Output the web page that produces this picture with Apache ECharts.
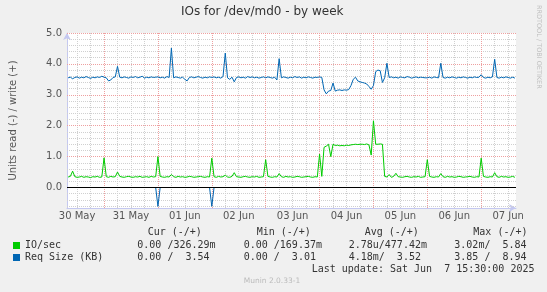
<!DOCTYPE html>
<html><head><meta charset="utf-8">
<script src="https://cdn.jsdelivr.net/npm/echarts@6/dist/echarts.min.js"></script>
<style>html,body{margin:0;padding:0;background:#f0f0f0}#c{width:547px;height:292px}</style>
</head><body><div id="c"></div>
<script>
// hourly samples, hours since 30 May 00:00, starting at 08:00
const startHour = 8;
const ioWrite = [
 0.34,0.36,0.53,0.35,0.33,0.34,0.36,0.33,0.35,0.34,0.32,0.35,0.34,0.36,0.33,0.34,
 0.96,0.35,0.33,0.36,0.34,0.35,0.50,0.36,0.34,0.33,0.35,0.36,0.34,0.33,0.35,0.34,0.36,0.33,0.34,0.35,0.33,0.36,0.34,0.35,
 1.00,0.36,0.34,0.33,0.35,0.34,0.42,0.35,0.33,0.36,0.34,0.35,0.33,0.34,0.36,0.35,0.33,0.34,0.35,0.36,0.34,0.33,0.35,0.34,
 0.95,0.35,0.33,0.36,0.34,0.35,0.40,0.34,0.33,0.36,0.48,0.35,0.34,0.33,0.35,0.36,0.34,0.33,0.35,0.34,0.36,0.33,0.34,0.35,
 0.90,0.36,0.34,0.33,0.35,0.34,0.45,0.35,0.33,0.36,0.34,0.35,0.33,0.34,0.36,0.35,0.33,0.34,0.35,0.36,0.34,0.33,0.35,0.34,
 1.08,0.36,1.30,1.34,1.40,1.00,1.40,1.36,1.37,1.35,1.36,1.35,1.37,1.36,1.38,1.39,1.40,1.39,1.40,1.40,1.39,1.41,1.38,1.05,
 2.16,1.40,1.40,1.41,1.40,0.36,0.34,0.42,0.33,0.36,0.46,0.35,0.34,0.33,0.35,0.36,0.34,0.33,0.35,0.34,0.36,0.33,0.34,0.35,
 0.90,0.36,0.34,0.33,0.35,0.34,0.45,0.35,0.33,0.36,0.34,0.35,0.33,0.34,0.36,0.35,0.33,0.34,0.35,0.36,0.34,0.33,0.35,0.34,
 0.95,0.36,0.34,0.33,0.35,0.34,0.48,0.35,0.33,0.36,0.34,0.35,0.33,0.34,0.36,0.33
];
const reqWrite = [
 3.55,3.57,3.52,3.56,3.58,3.54,3.57,3.55,3.59,3.56,3.53,3.57,3.55,3.58,3.56,3.60,
 3.57,3.55,3.45,3.48,3.56,3.58,3.92,3.57,3.55,3.58,3.56,3.54,3.58,3.56,3.59,3.55,3.57,3.60,3.54,3.57,3.55,3.58,3.56,3.57,
 3.58,3.55,3.57,3.54,3.59,3.56,4.51,3.55,3.58,3.56,3.54,3.57,3.50,3.45,3.56,3.58,3.55,3.57,3.59,3.56,3.54,3.57,3.55,3.58,
 3.56,3.58,3.55,3.57,3.54,3.59,4.35,3.55,3.50,3.57,3.42,3.56,3.58,3.55,3.57,3.54,3.59,3.56,3.58,3.55,3.57,3.54,3.56,3.58,
 3.55,3.58,3.56,3.54,3.57,3.48,4.17,3.55,3.58,3.56,3.54,3.57,3.55,3.59,3.56,3.58,3.54,3.57,3.55,3.58,3.56,3.54,3.57,3.56,
 3.58,3.56,3.16,3.03,3.12,3.14,3.38,3.12,3.15,3.16,3.14,3.16,3.15,3.17,3.30,3.50,3.57,3.45,3.42,3.40,3.38,3.35,3.27,3.18,
 3.30,3.75,3.80,3.78,3.40,3.55,4.02,3.56,3.58,3.55,3.57,3.54,3.58,3.56,3.55,3.59,3.57,3.54,3.56,3.58,3.55,3.57,3.56,3.55,
 3.55,3.57,3.54,3.58,3.56,3.55,4.02,3.56,3.54,3.57,3.55,3.58,3.56,3.54,3.57,3.55,3.58,3.56,3.54,3.57,3.55,3.58,3.56,3.57,
 3.65,3.56,3.54,3.57,3.55,3.58,4.15,3.56,3.54,3.57,3.55,3.58,3.56,3.54,3.57,3.54
];
// read (-) sides: [hour, value]
const ioRead = [[8,0],[207,0]];
const reqRead = [[8,0],[47,0],[48,-0.61],[49,0],[71,0],[72,-0.61],[73,0],[207,0]];

const dayLabels = ['30 May','31 May','01 Jun','02 Jun','03 Jun','04 Jun','05 Jun','06 Jun','07 Jun'];
const labelHours = [12,36,60,84,108,132,156,180,204];
const dayBoundaries = [24,48,72,96,120,144,168,192];
const yTicks = [0,1,2,3,4,5];
const xMin = 7.5, xMax = 207.5, yMin = -0.663, yMax = 5.0;

const seriesNames = ['IO/sec','Req Size (KB)'];
const seriesColors = ['#00CC00','#0066B3'];
const statHeaders = ['Cur (-/+)','Min (-/+)','Avg (-/+)','Max (-/+)'];
const ioStats = ['0.00 /326.29m','0.00 /169.37m','2.78u/477.42m','3.02m/  5.84'];
const reqStats = ['0.00 /  3.54','0.00 /  3.01','4.18m/  3.52','3.85 /  8.94'];
const lastUpdate = 'Last update: Sat Jun  7 15:30:00 2025';
const version = 'Munin 2.0.33-1';
const watermark = 'RRDTOOL / TOBI OETIKER';

const minorX = []; for (let h = 12; h < xMax; h += 6) if (h % 24 !== 0) minorX.push(h);
const minorY = []; for (let k = -3; k <= 24; k++) if (k % 5 !== 0) minorY.push(+(k * 0.2).toFixed(1));

const toPts = arr => arr.map((v, i) => [startHour + i, v]);
const mono = 'DejaVu Sans Mono';
const sans = 'DejaVu Sans';

function gridSeries(data, color, z, dashed) {
  return {
    type: 'line', data: [], silent: true, z: z,
    markLine: {
      silent: true, symbol: ['none','none'], z: z, animation: false,
      label: {show: false}, emphasis: {disabled: true},
      lineStyle: {color: color, width: 1, type: dashed ? [1,1] : 'solid'},
      data: data
    }
  };
}
const lineS = (name, data, color) => ({
  name: name, type: 'line', data: data, showSymbol: false, symbol: 'none', z: 3,
  lineStyle: {color: color, width: 1}, itemStyle: {color: color}, animation: false
});

const colX = [137.3, 243.7, 348.7, 454.3];
const hdrX = [147.7, 256.7, 364.7, 473.3];
const graphics = [];
function txt(x, y, s, font, size, color) {
  graphics.push({type: 'text', x: x, y: y, silent: true,
    style: {text: s, fontFamily: font, fontSize: size, fill: color, verticalAlign: 'middle', align: 'left'}});
}
statHeaders.forEach((s, i) => txt(hdrX[i], 232.7, s, mono, 10, '#333'));
ioStats.forEach((s, i) => txt(colX[i], 245.7, s, mono, 10, '#333'));
reqStats.forEach((s, i) => txt(colX[i], 257.7, s, mono, 10, '#333'));
txt(311.7, 269.5, lastUpdate, mono, 10, '#333');
txt(243.7, 281.5, version, sans, 7.5, '#bbb');
graphics.push({type: 'text', x: 539, y: 5, rotation: -Math.PI / 2, silent: true,
  style: {text: watermark, fontFamily: sans, fontSize: 6.5, fill: '#c0c0c0', verticalAlign: 'middle', align: 'left'}});

const chart = echarts.init(document.getElementById('c'), null, {renderer: 'canvas'});
chart.setOption({
  animation: false,
  backgroundColor: '#f0f0f0',
  title: {text: 'IOs for /dev/md0 - by week', left: 181, top: 6, padding: 0,
    textStyle: {fontFamily: sans, fontSize: 12, fontWeight: 'normal', color: '#333'}},
  legend: {data: seriesNames, orient: 'vertical', left: 13, top: 239.5, icon: 'rect', itemWidth: 7, itemHeight: 7,
    itemGap: 0, padding: 0, selectedMode: false,
    textStyle: {fontFamily: mono, fontSize: 10, color: '#333', lineHeight: 12}},
  grid: {left: 66, right: 31, top: 33, bottom: 84, show: true, backgroundColor: '#ffffff', borderWidth: 0},
  xAxis: {type: 'value', min: xMin, max: xMax,
    axisLine: {show: true, onZero: false, lineStyle: {color: '#c4c8f0', width: 1}, symbol: ['none','arrow'], symbolSize: [6, 7]},
    axisTick: {show: false}, splitLine: {show: false},
    axisLabel: {customValues: labelHours, formatter: v => dayLabels[labelHours.indexOf(v)],
      fontFamily: sans, fontSize: 10, color: '#555', margin: 3}},
  yAxis: {type: 'value', min: yMin, max: yMax,
    name: 'Units read (-) / write (+)', nameLocation: 'middle', nameGap: 49,
    nameTextStyle: {fontFamily: sans, fontSize: 10, color: '#555'},
    axisLine: {show: true, onZero: false, lineStyle: {color: '#c4c8f0', width: 1}, symbol: ['none','arrow'], symbolSize: [6, 7]},
    axisTick: {show: false}, splitLine: {show: false},
    axisLabel: {customValues: yTicks, formatter: v => v.toFixed(1), fontFamily: sans, fontSize: 10, color: '#555', margin: 5}},
  series: [
    gridSeries(minorX.map(v => ({xAxis: v})).concat(minorY.map(v => ({yAxis: v}))), '#d0d0d0', 1, true),
    gridSeries(dayBoundaries.map(v => ({xAxis: v})).concat(yTicks.map(v => ({yAxis: v}))), '#eea0a0', 1.5, true),
    lineS(seriesNames[0], ioRead, seriesColors[0]),
    lineS(seriesNames[0], toPts(ioWrite), seriesColors[0]),
    lineS(seriesNames[1], reqRead, seriesColors[1]),
    lineS(seriesNames[1], toPts(reqWrite), seriesColors[1]),
    gridSeries([{yAxis: 0}], '#000000', 10, false)
  ],
  graphic: graphics
});
</script></body></html>
